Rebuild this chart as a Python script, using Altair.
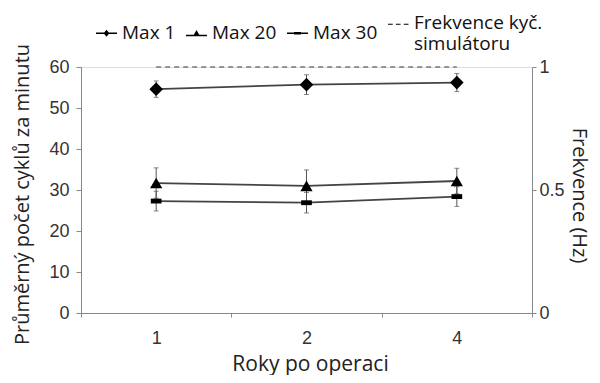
import altair as alt
import pandas as pd

years = ["1", "2", "4"]
max1 = [54.6, 55.7, 56.2]
err1 = [2.0, 2.4, 2.2]
max20 = [31.7, 31.0, 32.2]
err20 = [3.7, 3.9, 3.1]
max30 = [27.3, 26.9, 28.4]
err30 = [2.4, 2.5, 2.4]
freq = [1.0, 1.0, 1.0]
series_names = ["Max 1", "Max 20", "Max 30", "Frekvence"]

rows = []
for name, vals, errs in [("Max 1", max1, err1), ("Max 20", max20, err20), ("Max 30", max30, err30)]:
    for y, v, e in zip(years, vals, errs):
        rows.append({"rok": y, "serie": name, "v": v, "lo": v - e, "hi": v + e})
df = pd.DataFrame(rows)
df_freq = pd.DataFrame({"rok": years, "f": freq})
df_leg = pd.DataFrame({"serie": series_names})

TXT = "Open Sans"
NUM = "Liberation Sans"

xenc = alt.X("rok:O", sort=years,
             scale=alt.Scale(type="band", paddingInner=0, paddingOuter=0),
             axis=alt.Axis(title="Roky po operaci", labelAngle=0, tickBand="extent",
                           labelPadding=12, tickSize=4, domainColor="#888", tickColor="#888",
                           labelFont=NUM, labelFontSize=18, labelColor="#333",
                           titleFont=TXT, titleFontSize=21, titleFontWeight="normal", titleColor="#222",
                           titleX=229, titleY=57, titleBaseline="alphabetic", titleAnchor="middle"))

yleft = alt.Y("v:Q", scale=alt.Scale(domain=[0, 60], nice=False),
              axis=alt.Axis(title="Průměrný počet cyklů za minutu", values=[0, 10, 20, 30, 40, 50, 60],
                            grid=False, tickSize=5, domainColor="#888", tickColor="#888",
                            labelFont=NUM, labelFontSize=18, labelColor="#333", labelPadding=7,
                            titleFont=TXT, titleFontSize=20, titleFontWeight="normal", titleColor="#222",
                            titleAngle=270, titleX=-59, titleY=127, titleAlign="center",
                            titleBaseline="middle"))

base = alt.Chart(df)

lines = base.mark_line(color="#444", strokeWidth=1.8).encode(
    x=xenc, y=yleft, detail="serie:N")

rules = base.mark_rule(color="#555", strokeWidth=1).encode(
    x=xenc, y=alt.Y("lo:Q"), y2="hi:Q")
caps_hi = base.mark_tick(color="#555", thickness=1, size=5, orient="horizontal").encode(
    x=xenc, y=alt.Y("hi:Q"))
caps_lo = base.mark_tick(color="#555", thickness=1, size=5, orient="horizontal").encode(
    x=xenc, y=alt.Y("lo:Q"))

pts = base.mark_point(filled=True, color="black", opacity=1).encode(
    x=xenc, y=yleft,
    shape=alt.Shape("serie:N", scale=alt.Scale(
        domain=["Max 1", "Max 20", "Max 30"],
        range=["diamond", "triangle-up", "M-1,-0.45L1,-0.45L1,0.45L-1,0.45Z"]), legend=None),
    size=alt.Size("serie:N", scale=alt.Scale(domain=["Max 1", "Max 20", "Max 30"],
                                             range=[185, 115, 60]), legend=None),
)

seg = "M-1,-0.07L1,-0.07L1,0.07L-1,0.07Z"
leg = alt.Chart(df_leg).mark_point(filled=True, color="black", opacity=0).encode(
    shape=alt.Shape("serie:N", sort=series_names, scale=alt.Scale(
        domain=series_names,
        range=[seg + "M0,-0.33L0.28,0L0,0.33L-0.28,0Z",
               "M-1,0.15L1,0.15L1,0.29L-1,0.29ZM0,-0.3L0.3,0.22L-0.3,0.22Z",
               seg + "M-0.33,-0.13L0.33,-0.13L0.33,0.13L-0.33,0.13Z",
               "M-1,0.1L-0.55,0.1L-0.55,0.2L-1,0.2Z"
               "M-0.25,0.1L0.2,0.1L0.2,0.2L-0.25,0.2Z"
               "M0.5,0.1L0.95,0.1L0.95,0.2L0.5,0.2Z"]),
        legend=alt.Legend(orient="none", legendX=15, legendY=-55, direction="horizontal",
                          columns=4, title=None, symbolOpacity=1, symbolSize=440,
                          symbolFillColor="black", symbolStrokeWidth=0,
                          labelFont=TXT, labelFontSize=19, labelColor="#111", labelOffset=5,
                          columnPadding=10, labelLimit=250,
                          labelExpr="datum.label == 'Frekvence' ? ['\u00a0\u00a0Frekvence kyč.', '\u00a0\u00a0\u00a0simulátoru'] : (datum.label == 'Max 1' ? 'Max 1\u00a0\u00a0\u00a0\u00a0' : datum.label)")),
)

left = alt.layer(rules, caps_hi, caps_lo, lines, pts, leg).resolve_scale(shape="independent", size="independent")

right = alt.Chart(df_freq).mark_line(color="#777", strokeWidth=1.3, strokeDash=[5, 4]).encode(
    x=xenc,
    y=alt.Y("f:Q", scale=alt.Scale(domain=[0, 1], nice=False),
            axis=alt.Axis(orient="right", title="Frekvence (Hz)", values=[0, 0.5, 1], format=".1~f",
                          grid=False, tickSize=4, domainColor="#888", tickColor="#888",
                          labelFont=NUM, labelFontSize=18, labelColor="#333", labelPadding=3,
                          titleFont=TXT, titleFontSize=20, titleFontWeight="normal", titleColor="#222",
                          titleAngle=90, titleX=46, titleY=128, titleAlign="center",
                          titleBaseline="middle")),
)

chart = alt.layer(left, right).resolve_scale(y="independent").properties(
    width=451, height=246,
    autosize=alt.AutoSizeParams(type="none"),
    padding={"left": 73, "top": 59, "right": 60, "bottom": 62},
).configure_view(stroke=None).configure(background="white")

chart.save("out.html", embed_options={"renderer": "svg", "actions": False})
